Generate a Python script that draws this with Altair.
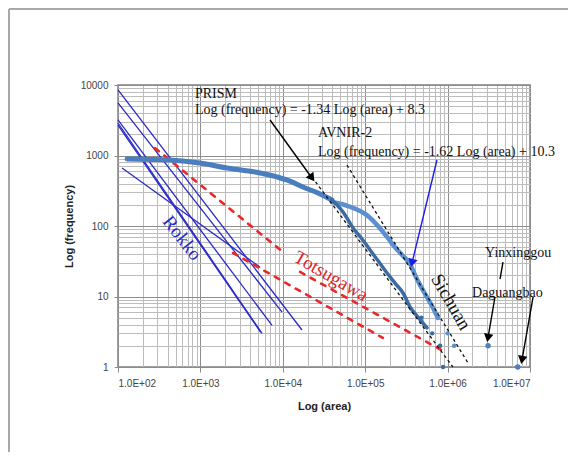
import altair as alt
import pandas as pd

# ---------------- data (area, frequency) ----------------
# Rokko: straight blue lines, start/end
rokko_id = [1, 1, 2, 2, 3, 3, 4, 4, 5, 5, 6, 6]
rokko_area = [100, 17100, 100, 9800, 100, 7400, 100, 5600, 100, 5400, 112, 5300]
rokko_freq = [8500, 3.35, 5560, 6.0, 3190, 3.9, 2890, 3.0, 2700, 3.1, 665, 26]

# Totsugawa: red dashed lines, start/end
tots_id = [1, 1, 2, 2, 3, 3]
tots_area = [281, 10050, 2490, 164000, 16200, 929000]
tots_freq = [1277, 42.8, 41.4, 2.58, 22.3, 1.63]

# Sichuan PRISM cumulative curve (upper, thick part and lower, steep part)
prism_up_area = [129, 244, 428, 988, 2100, 4600, 8500, 12200, 17600, 26700, 39500]
prism_up_freq = [891, 880, 863, 783, 665, 583, 496, 434, 357, 294, 234]
prism_lo_area = [39500, 53800, 71100, 91500, 114000, 147000, 184000, 230000, 288000, 350000, 437000, 562000]
prism_lo_freq = [234, 158, 94, 65.5, 46, 30.8, 21.5, 15.5, 11.2, 7.1, 5.1, 3.6]
prism_tail_area = [480000, 650000, 810000, 880000]
prism_tail_freq = [5, 3, 2, 1]

# Sichuan AVNIR-2 cumulative curve
avnir_area = [39500, 61800, 108000, 143000, 184000, 230000, 288000, 350000, 402000, 462000, 562000, 665000, 764000]
avnir_freq = [219, 192, 139, 100, 70, 50, 37.5, 28.9, 20.2, 14.6, 9.8, 6.9, 4.95]
avnir_tail_area = [764000, 1000000, 1200000]
avnir_tail_freq = [5, 3, 2]

# fitted lines (black dashed)
fit_id = ["PRISM", "PRISM", "AVNIR", "AVNIR"]
fit_area = [22600, 1160000, 60100, 1770000]
fit_freq = [496, 1, 733, 1.14]

# single events
event_name = ["Yinxinggou", "Daguangbao"]
event_area = [3100000, 7100000]
event_freq = [2, 1]

# arrows: tail -> tip
arrow_id = ["prism", "prism", "avnir", "avnir", "yin1", "yin1", "yin2", "yin2", "dag", "dag"]
arrow_area = [7000, 22600, 743000, 370000, 4700000, 4330000, 3760000, 3090000, 10900000, 8000000]
arrow_freq = [3190, 480, 863, 29.9, 30.8, 17.7, 9.84, 2.58, 9.84, 1.26]
head_area = [22600, 370000, 3090000, 8000000]
head_freq = [480, 29.9, 2.58, 1.26]
head_angle = [144, 194, 190, 190]
head_color = ["black", "#1f1fe0", "black", "black"]

# annotation texts
note_text = ["PRISM", "Log (frequency) = -1.34 Log (area) + 8.3",
             "AVNIR-2", "Log (frequency) = -1.62 Log (area) + 10.3",
             "Yinxinggou", "Daguangbao"]
note_area = [859, 859, 26700, 26700, 2850000, 1980000]
note_freq = [6550, 3880, 1828, 984, 36.3, 9.84]

big_text = ["Rokko", "Totsugawa", "Sichuan"]
big_area = [599, 38500, 1100000]
big_freq = [67.6, 19.5, 8.36]
big_angle = [52, 30, 60]
big_color = ["#2a2ac8", "#e0262a", "#111111"]

# ---------------- scales / axes ----------------
MAJOR = "abs(log(datum.value)/LN10 - round(log(datum.value)/LN10)) < 0.001"
xvals = [m * 10 ** k for k in range(2, 7) for m in range(1, 10)] + [10 ** 7]
yvals = [m * 10 ** k for k in range(0, 4) for m in range(1, 10)] + [10 ** 4]

xscale = alt.Scale(type="log", domain=[100, 10 ** 7], nice=False)
yscale = alt.Scale(type="log", domain=[1, 10 ** 4], nice=False)

grid_color = {"condition": {"test": MAJOR, "value": "#8c8c8c"}, "value": "#bcbcbc"}
tick_color = {"condition": {"test": MAJOR, "value": "#8c8c8c"}, "value": "transparent"}

xaxis = alt.Axis(values=xvals, title="Log (area)", grid=True, gridColor=grid_color,
                 tickColor=tick_color, tickSize=5, domain=False, labelOverlap=False,
                 labelExpr=MAJOR + " ? '1.0E+0' + round(log(datum.value)/LN10) : ''",
                 labelFont="Liberation Sans", labelFontSize=10, labelColor="#444",
                 labelPadding=6, titleFont="Liberation Sans", titleFontSize=11,
                 titleFontWeight="bold", titleColor="#222", titlePadding=12)
yaxis = alt.Axis(values=yvals, title="Log (frequency)", grid=True, gridColor=grid_color,
                 tickColor=tick_color, tickSize=4, domain=False, labelOverlap=False,
                 labelExpr=MAJOR + " ? format(datum.value, 'd') : ''",
                 labelFont="Liberation Sans", labelFontSize=10, labelColor="#444",
                 labelPadding=6, titleFont="Liberation Sans", titleFontSize=11,
                 titleFontWeight="bold", titleColor="#222", titlePadding=6)


def X():
    return alt.X("a:Q", scale=xscale, axis=xaxis)


def Y():
    return alt.Y("f:Q", scale=yscale, axis=yaxis)


rokko = pd.DataFrame({"id": rokko_id, "a": rokko_area, "f": rokko_freq})
tots = pd.DataFrame({"id": tots_id, "a": tots_area, "f": tots_freq})
prism_up = pd.DataFrame({"a": prism_up_area, "f": prism_up_freq})
prism_lo = pd.DataFrame({"a": prism_lo_area, "f": prism_lo_freq})
prism_tail = pd.DataFrame({"a": prism_tail_area, "f": prism_tail_freq})
avnir = pd.DataFrame({"a": avnir_area, "f": avnir_freq})
avnir_tail = pd.DataFrame({"a": avnir_tail_area, "f": avnir_tail_freq})
fits = pd.DataFrame({"id": fit_id, "a": fit_area, "f": fit_freq})
events = pd.DataFrame({"n": event_name, "a": event_area, "f": event_freq})
arrows = pd.DataFrame({"id": arrow_id, "a": arrow_area, "f": arrow_freq})
heads = pd.DataFrame({"a": head_area, "f": head_freq, "ang": head_angle, "c": head_color})
notes = pd.DataFrame({"t": note_text, "a": note_area, "f": note_freq})
bigs = pd.DataFrame({"t": big_text, "a": big_area, "f": big_freq, "ang": big_angle, "c": big_color})

frame = alt.Chart(pd.DataFrame({"k": [0]})).mark_rule(color="#a8a8a8", strokeWidth=2).encode(
    x=alt.value(-109), y=alt.value(-76), y2=alt.value(380))
frame_top = alt.Chart(pd.DataFrame({"k": [0]})).mark_rule(color="#a8a8a8", strokeWidth=2).encode(
    x=alt.value(-109), x2=alt.value(450), y=alt.value(-76))

base_grid = alt.Chart(prism_up).mark_point(opacity=0).encode(x=X(), y=Y())

rokko_l = alt.Chart(rokko).mark_line(color="#2a2ac8", strokeWidth=1.3).encode(
    x=X(), y=Y(), detail="id:N")
tots_l = alt.Chart(tots).mark_line(color="#e8282a", strokeWidth=2.6, strokeDash=[5, 7],
                                   strokeCap="round").encode(x=X(), y=Y(), detail="id:N")
prism_ul = alt.Chart(prism_up).mark_line(color="#4a7ebf", strokeWidth=5, strokeCap="round",
                                         strokeJoin="round", interpolate="monotone").encode(x=X(), y=Y())
prism_ll = alt.Chart(prism_lo).mark_line(color="#3c6ba3", strokeWidth=3.5, strokeCap="round",
                                         strokeJoin="round", interpolate="monotone").encode(x=X(), y=Y())
prism_p = alt.Chart(prism_tail).mark_circle(color="#3c6ba3", size=20, opacity=1).encode(x=X(), y=Y())
avnir_l = alt.Chart(avnir).mark_line(color="#5a8fd0", strokeWidth=4.5, strokeCap="round",
                                     strokeJoin="round", interpolate="monotone").encode(x=X(), y=Y())
avnir_p = alt.Chart(avnir_tail).mark_circle(color="#5a8fd0", size=20, opacity=1).encode(x=X(), y=Y())
fit_l = alt.Chart(fits).mark_line(color="#111", strokeWidth=1.3, strokeDash=[3, 3]).encode(
    x=X(), y=Y(), detail="id:N")
ev_p = alt.Chart(events).mark_circle(color="#4f81bd", size=30, opacity=1).encode(x=X(), y=Y())

arrow_l = alt.Chart(arrows).mark_line(strokeWidth=1.4).encode(
    x=X(), y=Y(), detail="id:N",
    color=alt.condition("datum.id == 'avnir'", alt.value("#1f1fe0"), alt.value("black")))
head_p = alt.Chart(heads).mark_point(shape="triangle-up", filled=True, size=90, opacity=1).encode(
    x=X(), y=Y(), angle=alt.Angle("ang:Q", scale=None), color=alt.Color("c:N", scale=None))

note_t = alt.Chart(notes).mark_text(align="left", baseline="alphabetic", font="Liberation Serif",
                                    fontSize=14, color="#111").encode(x=X(), y=Y(), text="t:N")
big_t = alt.Chart(bigs).mark_text(align="center", baseline="middle", font="Liberation Serif",
                                  fontSize=19).encode(
    x=X(), y=Y(), text="t:N", angle=alt.Angle("ang:Q", scale=None), color=alt.Color("c:N", scale=None))

chart = alt.layer(
    base_grid, frame, frame_top, rokko_l, tots_l, prism_ul, avnir_l, prism_ll, prism_p, avnir_p,
    fit_l, ev_p, arrow_l, head_p, note_t, big_t
).properties(
    width=412, height=282,
    autosize="none",
    padding={"left": 110, "top": 77, "right": 40, "bottom": 85},
    background="white",
).configure_view(stroke="#808080", strokeWidth=1.5)

chart.save("out.html", embed_options={"renderer": "svg", "actions": False})
